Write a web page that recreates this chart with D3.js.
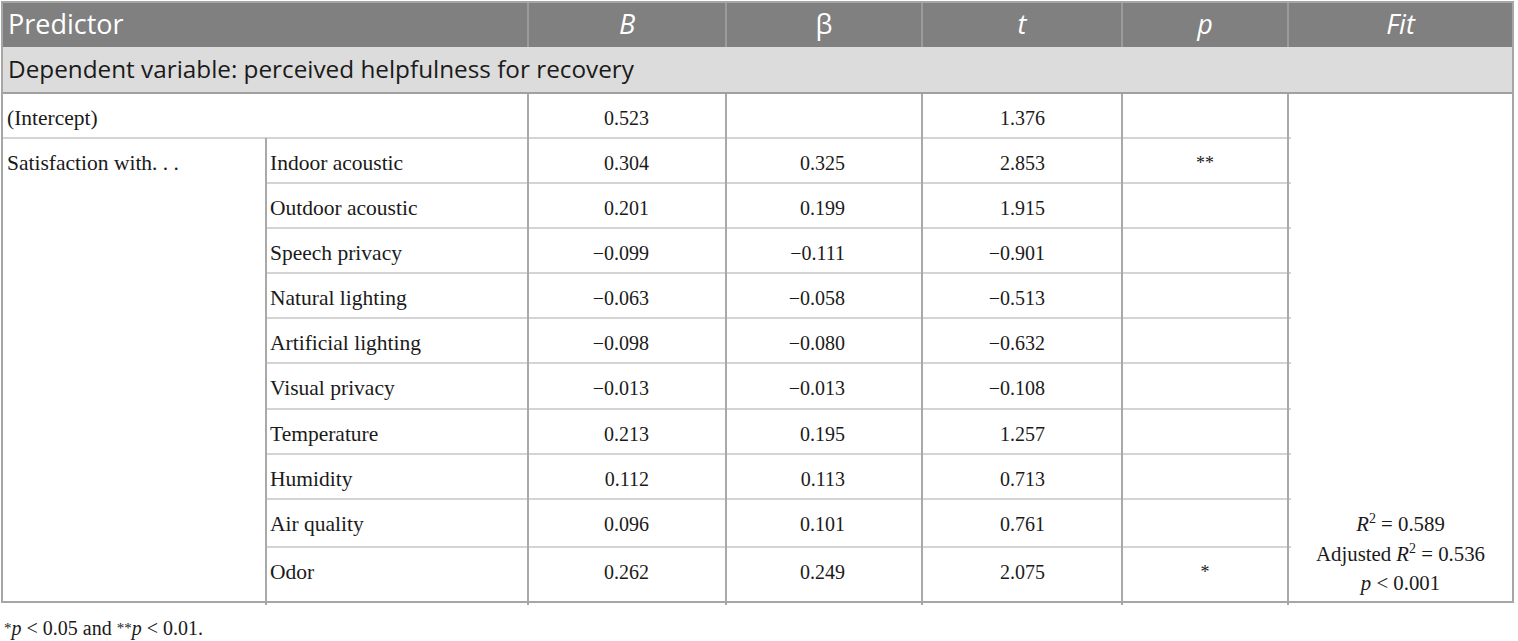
<!DOCTYPE html>
<html>
<head>
<meta charset="utf-8">
<script src="https://cdn.jsdelivr.net/npm/d3@7"></script>
<style>
  body { margin: 0; background: #fff; }
  svg { display: block; }
</style>
</head>
<body>
<div class="RegTable"></div>
<script>
// Table values
const headers = ["Predictor", "B", "β", "t", "p", "Fit"];
const dependentLabel = "Dependent variable: perceived helpfulness for recovery";
const groupLabel = "Satisfaction with. . .";
const predictors = ["Indoor acoustic", "Outdoor acoustic", "Speech privacy", "Natural lighting",
  "Artificial lighting", "Visual privacy", "Temperature", "Humidity", "Air quality", "Odor"];
const bValues = [0.304, 0.201, -0.099, -0.063, -0.098, -0.013, 0.213, 0.112, 0.096, 0.262];
const betaValues = [0.325, 0.199, -0.111, -0.058, -0.080, -0.013, 0.195, 0.113, 0.101, 0.249];
const tValues = [2.853, 1.915, -0.901, -0.513, -0.632, -0.108, 1.257, 0.713, 0.761, 2.075];
const pStars = ["**", "", "", "", "", "", "", "", "", "*"];
const interceptB = 0.523;
const interceptT = 1.376;
const rSquared = 0.589;
const adjRSquared = 0.536;
const modelP = "0.001";

const width = 1518, height = 641;
// column edges and row heights of the table grid
const colEdges = [2, 266, 528, 726, 922, 1122, 1288, 1513];
const headerTop = 2, headerH = 45, subH = 46;
const rowHeights = [45, 45, 45, 45, 45, 45, 46, 45, 45, 48, 55];

const sans = "'Open Sans', 'Noto Sans', sans-serif";
const serif = "'Liberation Serif', 'DejaVu Serif', serif";
const lineColor = "#a9a9a9";
const fmt = d3.format(".3f"); // d3 v7 uses the true minus sign

const svg = d3.select(".RegTable")
  .append("svg")
  .attr("width", width)
  .attr("height", height);

const left = colEdges[0], right = colEdges[colEdges.length - 1];
const subTop = headerTop + headerH;
const bodyTop = subTop + subH;

// row tops from the heights
const rowTops = rowHeights.reduce((acc, h) => { acc.push(acc[acc.length - 1] + h); return acc; }, [bodyTop]);
const bodyBottom = rowTops[rowTops.length - 1];

// backgrounds
svg.append("rect").attr("x", left).attr("y", headerTop)
  .attr("width", right - left).attr("height", headerH).attr("fill", "#808080");
svg.append("rect").attr("x", left).attr("y", subTop)
  .attr("width", right - left).attr("height", subH).attr("fill", "#dcdcdc");

// header column dividers
const headerCols = [0, 2, 3, 4, 5, 6];
svg.selectAll(".hdiv")
  .data(headerCols.slice(1))
  .enter().append("line")
  .attr("x1", d => colEdges[d]).attr("x2", d => colEdges[d])
  .attr("y1", headerTop).attr("y2", subTop)
  .attr("stroke", "#a4a4a4").attr("stroke-width", 1.5);

// header texts
svg.selectAll(".htext")
  .data(headers)
  .enter().append("text")
  .attr("x", (d, i) => i === 0 ? left + 6 : (colEdges[headerCols[i]] + colEdges[headerCols[i] + 1]) / 2)
  .attr("y", headerTop + 32)
  .attr("text-anchor", (d, i) => i === 0 ? "start" : "middle")
  .attr("font-family", sans)
  .attr("font-size", 27)
  .attr("font-style", (d, i) => (i === 0 || d === "β") ? "normal" : "italic")
  .attr("fill", "#fff")
  .text(d => d);

svg.append("text")
  .attr("x", left + 6).attr("y", subTop + 31)
  .attr("font-family", sans).attr("font-size", 24.3)
  .attr("fill", "#1a1a1a")
  .text(dependentLabel);

// grid lines in the body
const grid = svg.append("g").attr("stroke", lineColor).attr("fill", "none");

// horizontal lines between body rows
grid.selectAll(".hline")
  .data(rowTops.slice(1, -1))
  .enter().append("line")
  .attr("x1", (d, i) => i === 0 ? left : colEdges[1])
  .attr("x2", colEdges[6] + 3)
  .attr("y1", d => d).attr("y2", d => d)
  .attr("stroke-width", 1.2);

// vertical lines
grid.selectAll(".vline")
  .data([1, 2, 3, 4, 5, 6])
  .enter().append("line")
  .attr("x1", d => colEdges[d]).attr("x2", d => colEdges[d])
  .attr("y1", d => d === 1 ? rowTops[1] : bodyTop)
  .attr("y2", bodyBottom + 3)
  .attr("stroke-width", 2);

// subheader bottom line
grid.append("line")
  .attr("x1", left).attr("x2", right)
  .attr("y1", bodyTop).attr("y2", bodyTop)
  .attr("stroke", "#a0a0a0").attr("stroke-width", 2);

// outer border
svg.append("rect")
  .attr("x", left).attr("y", headerTop)
  .attr("width", right - left).attr("height", bodyBottom - headerTop)
  .attr("fill", "none").attr("stroke", "#a6a6a6").attr("stroke-width", 2);

// body text
const body = svg.append("g").attr("font-family", serif).attr("font-size", 20).attr("fill", "#1a1a1a");
const baseOff = 32;
const labelSize = 21.5;
const numRight = c => colEdges[c + 1] - 77;

body.append("text").attr("x", left + 5).attr("y", rowTops[0] + baseOff)
  .attr("font-size", labelSize).text("(Intercept)");
body.append("text").attr("x", numRight(2)).attr("y", rowTops[0] + baseOff)
  .attr("text-anchor", "end").text(fmt(interceptB));
body.append("text").attr("x", numRight(4)).attr("y", rowTops[0] + baseOff)
  .attr("text-anchor", "end").text(fmt(interceptT));

body.append("text").attr("x", left + 5).attr("y", rowTops[1] + baseOff)
  .attr("font-size", labelSize).text(groupLabel);

const rows = predictors.map((name, i) => ({
  name: name, b: bValues[i], beta: betaValues[i], t: tValues[i], p: pStars[i], top: rowTops[i + 1]
}));

const rowG = body.selectAll(".row")
  .data(rows)
  .enter().append("g")
  .attr("transform", d => `translate(0,${d.top + baseOff})`);

rowG.append("text").attr("x", colEdges[1] + 4).attr("font-size", labelSize).text(d => d.name);
rowG.append("text").attr("x", numRight(2)).attr("text-anchor", "end").text(d => fmt(d.b));
rowG.append("text").attr("x", numRight(3)).attr("text-anchor", "end").text(d => fmt(d.beta));
rowG.append("text").attr("x", numRight(4)).attr("text-anchor", "end").text(d => fmt(d.t));
rowG.append("text")
  .attr("x", (colEdges[5] + colEdges[6]) / 2)
  .attr("y", -1)
  .attr("text-anchor", "middle")
  .attr("font-size", 18)
  .text(d => d.p);

// model fit, bottom of the merged cell
const fitX = (colEdges[6] + colEdges[7]) / 2;
const fitLines = [
  [["R", "italic"], ["2", "sup"], [" = " + rSquared.toFixed(3), ""]],
  [["Adjusted ", ""], ["R", "italic"], ["2", "sup"], [" = " + adjRSquared.toFixed(3), ""]],
  [["p", "italic"], [" < " + modelP, ""]]
];
const fit = body.selectAll(".fit")
  .data(fitLines)
  .enter().append("text")
  .attr("x", fitX)
  .attr("y", (d, i) => bodyBottom - 12 - (fitLines.length - 1 - i) * 29.5)
  .attr("font-size", 20.8)
  .attr("text-anchor", "middle");
fit.selectAll("tspan")
  .data(d => d)
  .enter().append("tspan")
  .attr("font-style", d => d[1] === "italic" ? "italic" : null)
  .attr("font-size", d => d[1] === "sup" ? 14 : null)
  .attr("dy", (d, i, nodes) => d[1] === "sup" ? -8 : (i > 0 && nodes[i - 1].__data__[1] === "sup" ? 8 : null))
  .text(d => d[0]);

// footnote
const foot = svg.append("text")
  .attr("x", 4).attr("y", 635)
  .attr("font-family", serif).attr("font-size", 20).attr("fill", "#1a1a1a");
const footParts = [["*", "sup"], ["p", "italic"], [" < 0.05 and ", ""], ["**", "sup"], ["p", "italic"], [" < 0.01.", ""]];
foot.selectAll("tspan")
  .data(footParts)
  .enter().append("tspan")
  .attr("font-style", d => d[1] === "italic" ? "italic" : null)
  .attr("font-size", d => d[1] === "sup" ? 15 : null)
  .attr("dy", (d, i) => d[1] === "sup" ? -2 : (i > 0 && footParts[i - 1][1] === "sup" ? 2 : null))
  .text(d => d[0]);
</script>
</body>
</html>
